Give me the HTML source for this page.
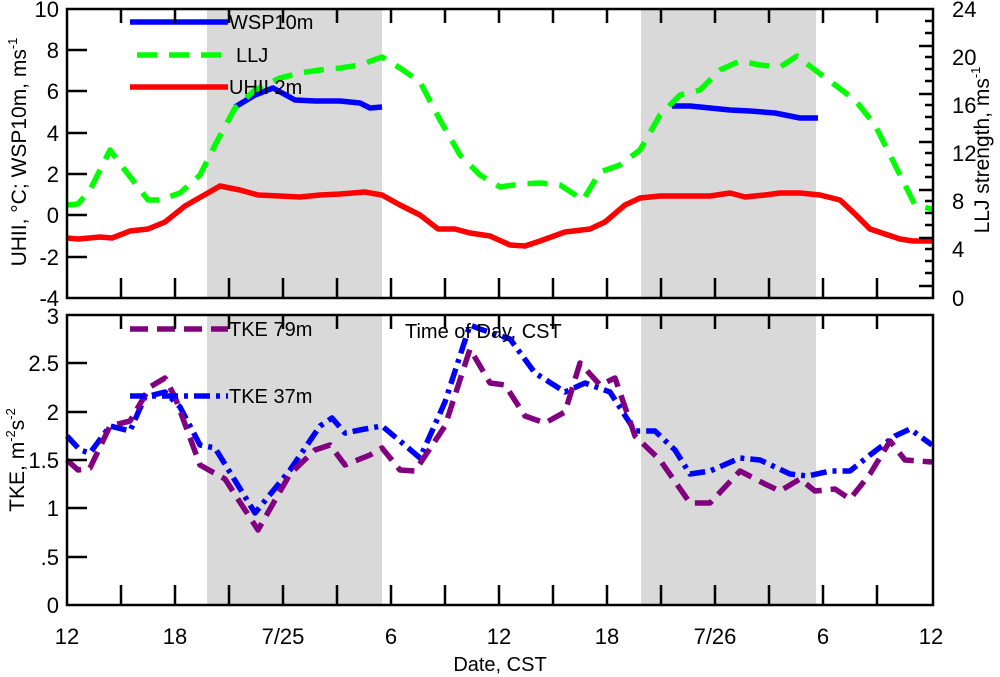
<!DOCTYPE html>
<html><head><meta charset="utf-8"><style>body{margin:0;background:#fff}svg{display:block}text{font-family:"Liberation Sans",sans-serif;fill:#000}</style></head><body>
<svg width="1000" height="677" viewBox="0 0 1000 677">
<rect x="207" y="9" width="175" height="289" fill="#d9d9d9"/>
<rect x="641" y="9" width="175" height="289" fill="#d9d9d9"/>
<rect x="207" y="315" width="175" height="290" fill="#d9d9d9"/>
<rect x="641" y="315" width="175" height="290" fill="#d9d9d9"/>
<g fill="none" stroke-width="5.5" stroke-linejoin="round">
<polyline stroke="#ff0000" points="67,238 78,239 100,237 112,238 130,231 148,229 165,222 185,206 220,186 240,190 258,195 280,196 300,197 320,195 340,194 365,192 382,195 400,205 420,215 438,229 455,229 470,233 490,236 510,245 525,246 540,241 565,232 590,229 605,222 625,205 640,198 660,196 690,196 710,196 730,193 745,197 765,195 780,193 800,193 820,195 840,200 855,214 870,229 900,239 913,241 932,241"/>
<polyline stroke="#0000ff" points="235,107 255,95 273,88 295,100 315,101 340,101 360,103 370,108 382,107"/>
<polyline stroke="#0000ff" points="672,106 690,106 710,108 730,110 750,111 775,113 800,118 818,118"/>
<polyline stroke="#00ff00" stroke-dasharray="20,12" points="67,205 78,204 90,190 110,150 121,165 148,200 160,200 180,193 200,175 215,145 235,108 255,90 280,78 300,73 320,70 340,68 360,65 382,57 400,68 420,82 440,120 460,155 480,175 500,187 520,184 540,183 560,185 583,200 600,172 620,165 640,150 660,115 680,95 700,90 720,70 740,61 760,65 780,67 797,56 815,70 835,85 855,100 875,125 895,165 915,205 932,209"/>
<polyline stroke="#0000ff" stroke-dasharray="16,6,4,6" points="67,436 80,450 90,453 110,426 130,431 145,397 165,392 180,407 200,445 215,448 255,513 290,470 320,426 332,418 345,433 365,429 382,426 400,441 420,458 445,402 470,325 480,329 510,339 535,373 565,392 585,383 610,392 635,431 655,431 675,450 690,474 710,471 740,458 760,460 790,474 808,476 830,471 850,471 870,455 895,436 910,429 932,445"/>
<polyline stroke="#800080" stroke-dasharray="18,9" points="67,460 78,470 90,468 110,426 130,421 150,387 165,378 175,397 200,465 225,479 258,530 290,474 315,450 330,445 345,465 370,455 382,448 400,470 415,471 445,426 470,349 490,383 505,385 525,416 545,423 565,412 580,363 600,385 615,378 635,436 660,460 690,503 710,503 740,471 765,484 780,491 800,479 815,491 835,489 850,499 870,474 890,441 905,460 932,462"/>
<line x1="130" y1="22" x2="228" y2="22" stroke="#0000ff"/>
<line x1="137" y1="55" x2="228" y2="55" stroke="#00ff00" stroke-dasharray="20,12"/>
<line x1="130" y1="87" x2="228" y2="87" stroke="#ff0000"/>
<line x1="130" y1="329" x2="228" y2="329" stroke="#800080" stroke-dasharray="18,9"/>
<line x1="130" y1="396" x2="228" y2="396" stroke="#0000ff" stroke-dasharray="16,6,4,6"/>
</g>
<g font-size="20">
<text x="229" y="29">WSP10m</text>
<text x="236" y="62">LLJ</text>
<text x="229" y="94">UHII 2m</text>
<text x="229" y="336">TKE 79m</text>
<text x="405" y="338">Time of Day, CST</text>
<text x="229" y="403">TKE 37m</text>
</g>
<g stroke="#000" stroke-width="2.5" fill="none">
<rect x="67" y="9" width="866" height="289"/>
<rect x="67" y="315" width="866" height="290"/>
<path d="M121,9v14M175,9v14M229,9v14M283,9v14M337,9v14M391,9v14M445,9v14M499,9v14M553,9v14M607,9v14M661,9v14M715,9v14M769,9v14M823,9v14M877,9v14
M121,298v-20M175,298v-20M229,298v-20M283,298v-20M337,298v-20M391,298v-20M445,298v-20M499,298v-20M553,298v-20M607,298v-20M661,298v-20M715,298v-20M769,298v-20M823,298v-20M877,298v-20
M121,315v14M175,315v14M229,315v14M283,315v14M337,315v14M391,315v14M445,315v14M499,315v14M553,315v14M607,315v14M661,315v14M715,315v14M769,315v14M823,315v14M877,315v14
M121,605v-20M175,605v-20M229,605v-20M283,605v-20M337,605v-20M391,605v-20M445,605v-20M499,605v-20M553,605v-20M607,605v-20M661,605v-20M715,605v-20M769,605v-20M823,605v-20M877,605v-20
M67,50h20M67,91h20M67,133h20M67,174h20M67,215h20M67,257h20
M67,363h20M67,412h20M67,460h20M67,508h20M67,557h20"/>
<path d="M933,46h-14M933,94h-14M933,142h-14M933,190h-14M933,238h-14M933,286h-14
M933,21h-8M933,33h-8M933,57h-8M933,69h-8M933,81h-8M933,105h-8M933,117h-8M933,129h-8M933,153h-8M933,165h-8M933,177h-8M933,201h-8M933,213h-8M933,225h-8M933,249h-8M933,261h-8M933,273h-8"/>
</g>
<g font-size="22" text-anchor="end">
<text x="59" y="17">10</text><text x="59" y="58">8</text><text x="59" y="99">6</text><text x="59" y="141">4</text><text x="59" y="182">2</text><text x="59" y="223">0</text><text x="59" y="265">-2</text><text x="59" y="306">-4</text>
<text x="59" y="324">3</text><text x="59" y="371">2.5</text><text x="59" y="420">2</text><text x="59" y="468">1.5</text><text x="59" y="516">1</text><text x="59" y="565">.5</text><text x="59" y="613">0</text>
</g>
<g font-size="22">
<text x="952" y="17">24</text><text x="952" y="65">20</text><text x="952" y="113">16</text><text x="952" y="161">12</text><text x="952" y="209">8</text><text x="952" y="257">4</text><text x="952" y="306">0</text>
</g>
<g font-size="22" text-anchor="middle">
<text x="67" y="644">12</text><text x="175" y="644">18</text><text x="283" y="644">7/25</text><text x="391" y="644">6</text><text x="499" y="644">12</text><text x="607" y="644">18</text><text x="715" y="644">7/26</text><text x="823" y="644">6</text><text x="931" y="644">12</text>
<text x="500" y="671" font-size="20">Date, CST</text>
<text transform="translate(26,152) rotate(-90)" font-size="21">UHII, °C; WSP10m, ms<tspan dy="-9" font-size="13">-1</tspan></text>
<text transform="translate(989,150) rotate(-90)" font-size="21">LLJ strength, ms<tspan dy="-9" font-size="13">-1</tspan></text>
<text transform="translate(24,460) rotate(-90)" font-size="21">TKE, m<tspan dy="-9" font-size="13">-2</tspan><tspan dy="9">s</tspan><tspan dy="-9" font-size="13">-2</tspan></text>
</g>
</svg>
</body></html>
